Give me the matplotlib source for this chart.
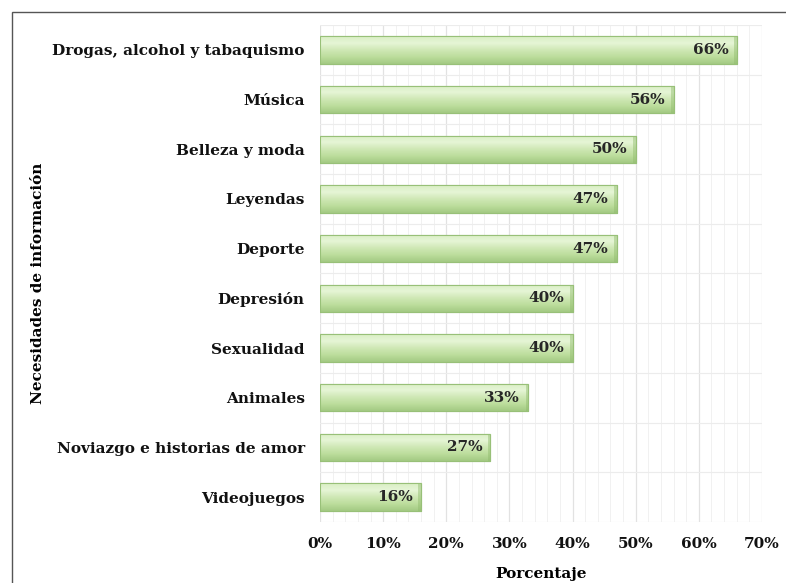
import numpy as np
import matplotlib
matplotlib.use("Agg")
import matplotlib.pyplot as plt
from matplotlib.patches import Rectangle
from matplotlib.colors import LinearSegmentedColormap
from matplotlib.ticker import MultipleLocator, FuncFormatter

categories = [
    "Drogas, alcohol y tabaquismo",
    "Música",
    "Belleza y moda",
    "Leyendas",
    "Deporte",
    "Depresión",
    "Sexualidad",
    "Animales",
    "Noviazgo e historias de amor",
    "Videojuegos",
]
values = [66, 56, 50, 47, 47, 40, 40, 33, 27, 16]
x_ticks = [0, 10, 20, 30, 40, 50, 60, 70]

FONT = "DejaVu Serif"
plt.rcParams["font.family"] = FONT
plt.rcParams["font.weight"] = "bold"

fig = plt.figure(figsize=(7.86, 5.83), dpi=100)
ax = fig.add_axes([320 / 786, 1 - 522 / 583, 442 / 786, 497 / 583])

# outer frame of the chart area
fig.patches.append(Rectangle((12 / 786, -0.1), 1.2, 1 - 12 / 583 + 0.1,
                             transform=fig.transFigure, fill=False,
                             edgecolor="#555555", linewidth=1.0, zorder=0))

# top of the bar is light, bottom darker (y axis is inverted)
grad = LinearSegmentedColormap.from_list(
    "bar", ["#d9efc4", "#e6f5d6", "#cfe8b5", "#bcdd9c", "#a3ca83"])
grad_img = np.linspace(0, 1, 64).reshape(-1, 1)

ypos = np.arange(len(categories))
height = 0.55
bars = ax.barh(ypos, values, height=height, color="#c6e4a8",
               edgecolor="#98c078", linewidth=0.8, zorder=3)
for b in bars:
    x0, y0 = b.get_x(), b.get_y()
    w, h = b.get_width(), b.get_height()
    im = ax.imshow(grad_img, cmap=grad, aspect="auto", origin="upper",
                   extent=(x0, x0 + w, y0 + h, y0), zorder=3.5,
                   interpolation="bilinear")
    im.set_clip_path(b)
    # bevelled right end
    ax.add_patch(Rectangle((x0 + w - 0.45, y0), 0.45, h, facecolor="#8fbb6c",
                           alpha=0.45, edgecolor="none", zorder=3.6))
    ax.add_patch(Rectangle((x0, y0), w, h, fill=False,
                           edgecolor="#98c078", linewidth=0.8, zorder=3.7))

for y, v in zip(ypos, values):
    ax.text(v - 1.3, y, f"{v}%", ha="right", va="center",
            fontsize=11, fontweight="bold", color="#262626", zorder=5)

ax.set_xlim(0, 70)
ax.set_ylim(len(categories) - 0.5, -0.5)
ax.set_yticks(ypos)
ax.set_yticklabels(categories, fontsize=11, fontweight="bold", color="#111111")
ax.set_xticks(x_ticks)
ax.xaxis.set_major_formatter(FuncFormatter(lambda v, _: f"{int(v)}%"))
ax.xaxis.set_minor_locator(MultipleLocator(2))
ax.set_yticks(np.arange(-0.5, len(categories), 1.0), minor=True)
ax.tick_params(axis="x", labelsize=11, length=0, pad=11, colors="#111111")
ax.tick_params(axis="y", length=0, pad=11)
ax.tick_params(which="minor", length=0)

ax.grid(which="major", axis="x", color="#e2e2e2", linewidth=0.9, zorder=0)
ax.grid(which="minor", axis="x", color="#f1f1f1", linewidth=0.7, zorder=0)
ax.grid(which="minor", axis="y", color="#ececec", linewidth=0.8, zorder=0)
ax.set_axisbelow(True)
for s in ax.spines.values():
    s.set_visible(False)

ax.set_xlabel("Porcentaje", fontsize=11, fontweight="bold", labelpad=11)
fig.text(38 / 786, 1 - 283 / 583, "Necesidades de información", rotation=90,
         ha="center", va="center", fontsize=11, fontweight="bold")

fig.savefig("out.png", dpi=100)
